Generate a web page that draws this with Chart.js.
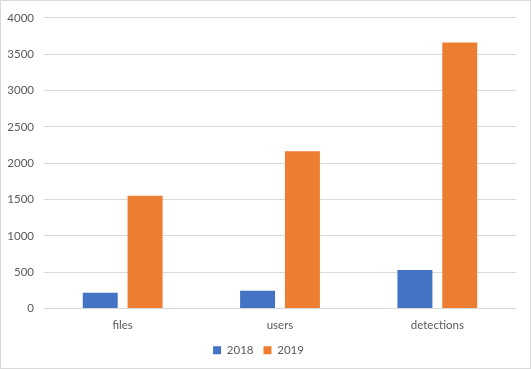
<!DOCTYPE html>
<html>
<head>
<meta charset="utf-8">
<script src="https://cdn.jsdelivr.net/npm/chart.js@4"></script>
<style>
html,body{margin:0;padding:0;background:#fff;}
#wrap{position:absolute;left:0;top:0;width:529px;height:367px;border:1px solid #d9d9d9;background:#fff;}
canvas{display:block;}
</style>
</head>
<body>
<div id="wrap"><canvas id="c" width="529" height="367"></canvas></div>
<script>
const categories = ["files", "users", "detections"];
const series2018 = [218, 245, 531];
const series2019 = [1551, 2163, 3660];
const seriesLabels = ["2018", "2019"];
const yTicks = [0, 500, 1000, 1500, 2000, 2500, 3000, 3500, 4000];

const font = {family: "Lato, 'Open Sans', sans-serif", size: 11.5};
const textColor = "#595959";

new Chart(document.getElementById("c"), {
  type: "bar",
  data: {
    labels: categories,
    datasets: [
      {label: seriesLabels[0], data: series2018, backgroundColor: "#4472c4"},
      {label: seriesLabels[1], data: series2019, backgroundColor: "#ed7d31"}
    ]
  },
  options: {
    responsive: false,
    animation: false,
    devicePixelRatio: 1,
    layout: {padding: {top: 13, right: 14, left: 0, bottom: 2}},
    datasets: {bar: {categoryPercentage: 0.57, barPercentage: 0.78}},
    scales: {
      x: {
        grid: {display: false},
        border: {display: false},
        ticks: {color: textColor, font: font, padding: 2},
        afterFit: (s) => { s.height = 26; }
      },
      y: {
        min: 0, max: 4000,
        afterBuildTicks: (s) => { s.ticks = yTicks.map(v => ({value: v})); },
        grid: {color: "#d9d9d9", drawTicks: false, lineWidth: 1},
        border: {display: false},
        ticks: {color: textColor, font: font, padding: 10, callback: (v) => String(v)},
        afterFit: (s) => { s.width = 43; }
      }
    },
    plugins: {
      legend: {
        position: "bottom",
        labels: {color: textColor, font: font, boxWidth: 8, boxHeight: 8, padding: 10}
      },
      tooltip: {enabled: false}
    }
  }
});
</script>
</body>
</html>
